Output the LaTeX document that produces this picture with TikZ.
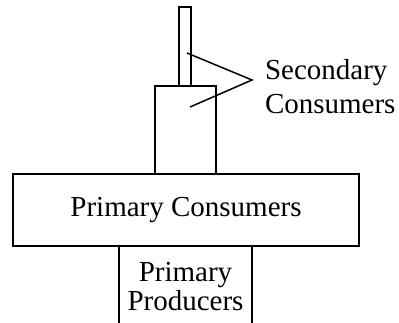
\documentclass[tikz,border=0pt]{standalone}
\usepackage{fontspec}
\setmainfont{Liberation Serif}
\begin{document}
\begin{tikzpicture}[x=1pt,y=-1pt,line width=2pt,
  box/.style={draw,line width=2pt,inner sep=0pt,outer sep=0pt},
  lbl/.style={font=\fontsize{29}{29}\selectfont,inner sep=0pt}]
\useasboundingbox (0,0) rectangle (399,323);
\node[box,minimum width=12pt,minimum height=79pt] (top) at (185,46.5) {};
\node[box,minimum width=61pt,minimum height=88pt] (mid) at (185.5,130) {};
\node[box,minimum width=346pt,minimum height=72pt] (pc) at (186,210) {};
\node[lbl] (pctext) at (186,210) {Primary Consumers};
\coordinate (pl) at (119,323);
\coordinate (pr) at (252,323);
\draw[line width=2pt] (pl) -- (pl |- pc.south);
\draw[line width=2pt] (pr) -- (pr |- pc.south);
\node[lbl,align=center,font=\fontsize{29}{29}\selectfont] (pp) at (185.5,287) {Primary\\Producers};
\node[lbl,align=left,anchor=west,font=\fontsize{29}{34}\selectfont] (sc) at (264,87) {Secondary\\Consumers};
\coordinate (apex) at (252,80);
\draw[line width=1.5pt] (187,53) -- (apex) -- (190,107);
\end{tikzpicture}
\end{document}
